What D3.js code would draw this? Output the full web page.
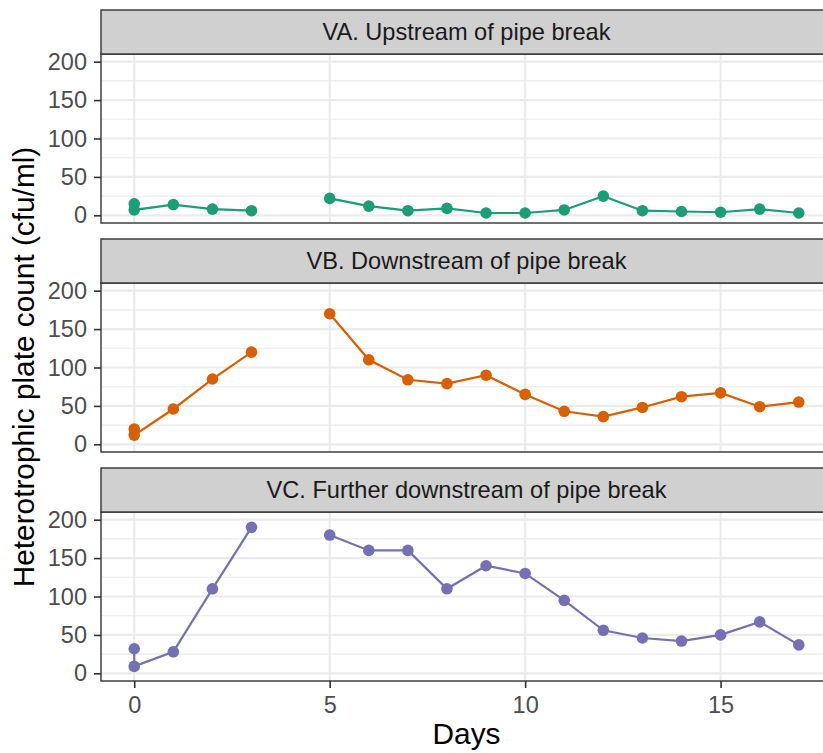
<!DOCTYPE html>
<html>
<head>
<meta charset="utf-8">
<script src="https://cdn.jsdelivr.net/npm/d3@7"></script>
<style>
  html, body { margin: 0; padding: 0; background: #ffffff; }
  svg { display: block; font-family: "Liberation Sans", Arial, Helvetica, sans-serif; }
</style>
</head>
<body>
<svg id="chart" width="823" height="753"></svg>
<script>
// Sampling days (two samples on day 0, no sample on day 4)
const days = [0, 0, 1, 2, 3, 4, 5, 6, 7, 8, 9, 10, 11, 12, 13, 14, 15, 16, 17];

// Heterotrophic plate counts (cfu/ml) per site
const siteNames = [
  "VA. Upstream of pipe break",
  "VB. Downstream of pipe break",
  "VC. Further downstream of pipe break"
];
const countsVA = [15, 7, 14, 8, 6, null, 22, 12, 6, 9, 3, 3, 7, 25, 6, 5, 4, 8, 3];
const countsVB = [20, 12, 46, 85, 120, null, 170, 110, 84, 79, 90, 65, 43, 36, 48, 62, 67, 49, 55];
const countsVC = [32, 9, 28, 110, 190, null, 180, 160, 160, 110, 140, 130, 95, 56, 46, 42, 50, 67, 37];
const siteColors = ["#1b9e77", "#d95f02", "#7570b3"];

const xTicks = [0, 5, 10, 15];
const yTicks = [0, 50, 100, 150, 200];
const yMinor = [25, 75, 125, 175];

const series = [countsVA, countsVB, countsVC];

const svg = d3.select("#chart");

const left = 101, right = 832;
const stripH = 44, panelH = 169, panelStep = 229, top0 = 10;

const x = d3.scaleLinear().domain([-0.85, 17.85]).range([left, right]);

const fontTick = 23.5, fontStrip = 23.6, fontTitle = 29.8;

series.forEach((vals, i) => {
  const stripTop = top0 + i * panelStep;
  const pTop = stripTop + stripH;
  const pBottom = pTop + panelH;
  const y = d3.scaleLinear().domain([-10, 210]).range([pBottom, pTop]);

  const g = svg.append("g");

  // panel background
  g.append("rect").attr("x", left).attr("y", pTop)
    .attr("width", right - left).attr("height", panelH).attr("fill", "#ffffff");

  // minor horizontal grid
  g.selectAll(".ymin").data(yMinor).join("line")
    .attr("x1", left).attr("x2", right)
    .attr("y1", d => y(d)).attr("y2", d => y(d))
    .attr("stroke", "#ebebeb").attr("stroke-width", 1.1);

  // major grid
  g.selectAll(".ymaj").data(yTicks).join("line")
    .attr("x1", left).attr("x2", right)
    .attr("y1", d => y(d)).attr("y2", d => y(d))
    .attr("stroke", "#ebebeb").attr("stroke-width", 2.2);
  g.selectAll(".xmaj").data(xTicks).join("line")
    .attr("x1", d => x(d)).attr("x2", d => x(d))
    .attr("y1", pTop).attr("y2", pBottom)
    .attr("stroke", "#ebebeb").attr("stroke-width", 2.2);

  // data line and points
  const pts = days.map((d, k) => ({ day: d, v: vals[k] }));
  const line = d3.line()
    .defined(d => d.v !== null)
    .x(d => x(d.day)).y(d => y(d.v));
  g.append("path").datum(pts)
    .attr("d", line).attr("fill", "none")
    .attr("stroke", siteColors[i]).attr("stroke-width", 2.2);
  g.selectAll(".pt").data(pts.filter(d => d.v !== null)).join("circle")
    .attr("cx", d => x(d.day)).attr("cy", d => y(d.v)).attr("r", 5.8)
    .attr("fill", siteColors[i]);

  // panel border
  g.append("rect").attr("x", left).attr("y", pTop)
    .attr("width", right - left).attr("height", panelH)
    .attr("fill", "none").attr("stroke", "#333333").attr("stroke-width", 1.4);

  // strip
  g.append("rect").attr("x", left).attr("y", stripTop)
    .attr("width", right - left).attr("height", stripH)
    .attr("fill", "#d0d0d0").attr("stroke", "#333333").attr("stroke-width", 1.4);
  g.append("text")
    .attr("x", (left + right) / 2).attr("y", stripTop + stripH / 2)
    .attr("dy", "0.35em").attr("text-anchor", "middle")
    .attr("font-size", fontStrip).attr("fill", "#1a1a1a")
    .text(siteNames[i]);

  // y axis
  const yAxis = d3.axisLeft(y).tickValues(yTicks).tickSize(7).tickPadding(7);
  const ya = svg.append("g").attr("transform", `translate(${left},0)`).call(yAxis);
  ya.select(".domain").remove();
  ya.selectAll(".tick line").attr("stroke", "#333333").attr("stroke-width", 1.6);
  ya.selectAll(".tick text").attr("fill", "#4d4d4d")
    .attr("font-size", fontTick).attr("font-family", "Liberation Sans, Arial, sans-serif");

  // x axis on the bottom panel only
  if (i === series.length - 1) {
    const xAxis = d3.axisBottom(x).tickValues(xTicks).tickSize(7).tickPadding(8);
    const xa = svg.append("g").attr("transform", `translate(0,${pBottom})`).call(xAxis);
    xa.select(".domain").remove();
    xa.selectAll(".tick line").attr("stroke", "#333333").attr("stroke-width", 1.6);
    xa.selectAll(".tick text").attr("fill", "#4d4d4d")
      .attr("font-size", fontTick).attr("font-family", "Liberation Sans, Arial, sans-serif");
  }
});

// axis titles
svg.append("text")
  .attr("x", (left + right) / 2).attr("y", 744)
  .attr("text-anchor", "middle").attr("font-size", fontTitle).attr("fill", "#000000")
  .text("Days");

svg.append("text")
  .attr("transform", "translate(34,367) rotate(-90)")
  .attr("text-anchor", "middle").attr("font-size", fontTitle).attr("fill", "#000000")
  .text("Heterotrophic plate count (cfu/ml)");
</script>
</body>
</html>
